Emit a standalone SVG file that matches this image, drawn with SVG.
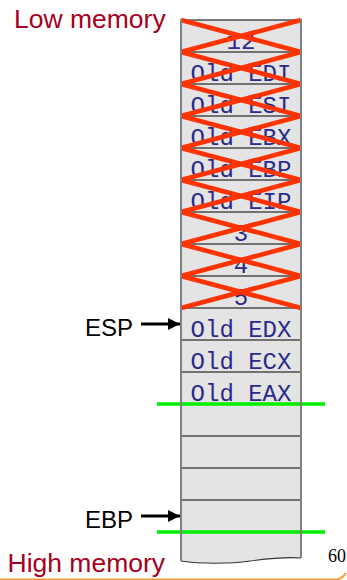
<svg xmlns="http://www.w3.org/2000/svg" width="347" height="580" viewBox="0 0 347 580">
<style>
.cell{font-family:"Liberation Mono","Courier New",monospace;font-size:24px;fill:#2A2A8A;text-anchor:middle}
.lbl{font-family:"Liberation Sans",Arial,sans-serif;font-size:24px;fill:#000}
.mem{font-family:"Liberation Sans",Arial,sans-serif;font-size:26.5px;fill:#A50021}
.sep{stroke:#000;stroke-width:1.2}
.x{stroke:#FF3300;stroke-width:4.6;stroke-linecap:butt}
.green{stroke:#00EE00;stroke-width:3.5}
.border{stroke:#808080;stroke-width:2;fill:none}
.arrow{stroke:#000;stroke-width:3}
</style>
<defs>
<marker id="ah" markerWidth="12" markerHeight="12" refX="12" refY="6" orient="auto" markerUnits="userSpaceOnUse">
<path d="M0,0 L12,6 L0,12 Z" fill="#000"/>
</marker>
</defs>
<rect width="347" height="580" fill="#fff"/>
<text class="mem" x="14" y="28">Low memory</text>
<text class="mem" x="7.5" y="572">High memory</text>
<text x="328" y="562" font-family="Liberation Serif,'Times New Roman',serif" font-size="18" fill="#000">60</text>
<path d="M0,579.5 H336 Q342,579 346,573" stroke="#F39A2E" stroke-width="2" fill="none"/>
<g id="stack">
<path d="M181,20 H301 V558 C290,557 265,559 250,561 C230,564 200,564 181,561 Z" fill="#E4E4E4"/>
<path d="M181,561 C200,564 230,564 250,561 C265,559 290,557 301,558" stroke="#333" stroke-width="1.2" fill="none"/>
<line class="sep" x1="181" y1="20" x2="301" y2="20"/>
</g>
<g id="row0"><line class="sep" x1="181" y1="52" x2="301" y2="52"/><text class="cell" x="241" y="49">12</text></g>
<g id="row1"><line class="sep" x1="181" y1="84" x2="301" y2="84"/><text class="cell" x="241" y="81">Old EDI</text></g>
<g id="row2"><line class="sep" x1="181" y1="116" x2="301" y2="116"/><text class="cell" x="241" y="113">Old ESI</text></g>
<g id="row3"><line class="sep" x1="181" y1="148" x2="301" y2="148"/><text class="cell" x="241" y="145">Old EBX</text></g>
<g id="row4"><line class="sep" x1="181" y1="180" x2="301" y2="180"/><text class="cell" x="241" y="177">Old EBP</text></g>
<g id="row5"><line class="sep" x1="181" y1="212" x2="301" y2="212"/><text class="cell" x="241" y="209">Old EIP</text></g>
<g id="row6"><line class="sep" x1="181" y1="244" x2="301" y2="244"/><text class="cell" x="241" y="241">3</text></g>
<g id="row7"><line class="sep" x1="181" y1="276" x2="301" y2="276"/><text class="cell" x="241" y="273">4</text></g>
<g id="row8"><line class="sep" x1="181" y1="308" x2="301" y2="308"/><text class="cell" x="241" y="305">5</text></g>
<g id="row9"><line class="sep" x1="181" y1="340" x2="301" y2="340"/><text class="cell" x="241" y="337">Old EDX</text></g>
<g id="row10"><line class="sep" x1="181" y1="372" x2="301" y2="372"/><text class="cell" x="241" y="369">Old ECX</text></g>
<g id="row11"><line class="sep" x1="181" y1="404" x2="301" y2="404"/><text class="cell" x="241" y="401">Old EAX</text></g>
<g id="row12"><line class="sep" x1="181" y1="436" x2="301" y2="436"/></g>
<g id="row13"><line class="sep" x1="181" y1="468" x2="301" y2="468"/></g>
<g id="row14"><line class="sep" x1="181" y1="500" x2="301" y2="500"/></g>
<g id="row15"><line class="sep" x1="181" y1="532" x2="301" y2="532"/></g>
<g id="crosses">
<path class="x" d="M181,20 L301,52 M301,20 L181,52 M181,52 L301,84 M301,52 L181,84 M181,84 L301,116 M301,84 L181,116 M181,116 L301,148 M301,116 L181,148 M181,148 L301,180 M301,148 L181,180 M181,180 L301,212 M301,180 L181,212 M181,212 L301,244 M301,212 L181,244 M181,244 L301,276 M301,244 L181,276 M181,276 L301,308 M301,276 L181,308"/>
</g>
<g id="frames">
<line class="green" x1="157" y1="404" x2="325" y2="404"/>
<line class="green" x1="157" y1="532" x2="325" y2="532"/>
</g>
<g id="borders">
<line class="border" x1="181" y1="19" x2="181" y2="561"/>
<line class="border" x1="301" y1="19" x2="301" y2="558"/>
</g>
<g id="esp"><text class="lbl" x="85" y="336">ESP</text></g>
<g id="ebp"><text class="lbl" x="85" y="528">EBP</text></g>
<g id="connectors">
<line class="arrow" x1="141" y1="324" x2="180" y2="324" marker-end="url(#ah)"/>
<line class="arrow" x1="141" y1="516" x2="180" y2="516" marker-end="url(#ah)"/>
</g>
</svg>
